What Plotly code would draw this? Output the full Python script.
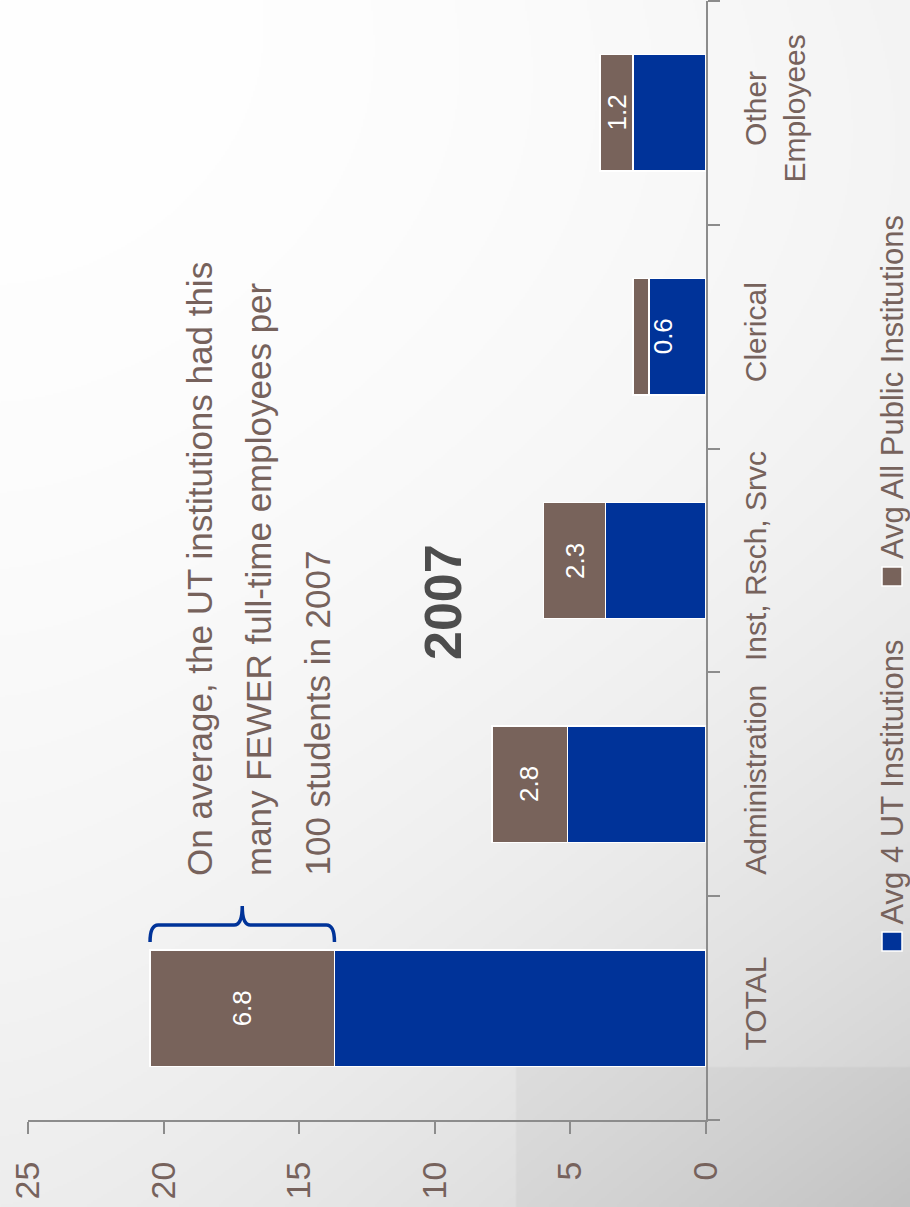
import base64
import struct
import zlib

import numpy as np
import plotly.graph_objects as go

# ---------------- data ----------------
categories = ["TOTAL", "Administration", "Inst, Rsch, Srvc", "Clerical", "Other<br>Employees"]
ut_avg = [13.7, 5.1, 3.7, 2.1, 2.7]            # Avg 4 UT Institutions
gap_to_public = [6.8, 2.8, 2.3, 0.6, 1.2]      # extra for Avg All Public Institutions
value_ticks = [0, 5, 10, 15, 20, 25]
series_names = ["Avg 4 UT Institutions", "Avg All Public Institutions"]
title_text = "2007"
note_lines = [
    "On average, the UT institutions had this",
    "many FEWER full-time employees per",
    "100 students in 2007",
]

# ---------------- style ----------------
W, H = 910, 1207
ML, MR, MT, MB = 28, 204, 1, 87
PW, PH = W - ML - MR, H - MT - MB
BLUE = "#003399"
BROWN = "#78635b"
TXT = "#76625c"
AXC = "#8c8c8c"
FONT = "'Liberation Sans', Arial, sans-serif"


def px(xpix):
    return (xpix - ML) / PW


def py(ypix):
    return (H - MB - ypix) / PH


# ---------------- background gradient (decoration) ----------------
def gradient_png(w, h):
    fx = np.linspace(0, 1, w)[None, :]
    fy = np.linspace(0, 1, h)[:, None]
    g = 255 - 18 * fy ** 2 - 34 * (fx ** 1.5) * fy ** 2 - 12 * fx ** 2 * (1 - fy)
    xs = np.linspace(0, W, w)[None, :]
    ys = np.linspace(0, H, h)[:, None]
    g = g - 8 * ((xs > 517) & (ys > 1067))
    arr = np.clip(g, 0, 255).astype(np.uint8)
    raw = b"".join(b"\x00" + arr[r].tobytes() for r in range(h))

    def chunk(tag, data):
        c = struct.pack(">I", len(data)) + tag + data
        return c + struct.pack(">I", zlib.crc32(tag + data) & 0xFFFFFFFF)

    png = b"\x89PNG\r\n\x1a\n"
    png += chunk(b"IHDR", struct.pack(">IIBBBBB", w, h, 8, 0, 0, 0, 0))
    png += chunk(b"IDAT", zlib.compress(raw, 9))
    png += chunk(b"IEND", b"")
    return "data:image/png;base64," + base64.b64encode(png).decode()


bg = gradient_png(455, 604)

# ---------------- figure ----------------
fig = go.Figure()
fig.add_bar(
    y=categories, x=ut_avg, orientation="h", name=series_names[0],
    marker=dict(color=BLUE, line=dict(color="white", width=1.5)),
    showlegend=False, hoverinfo="skip",
)
fig.add_bar(
    y=categories, x=gap_to_public, orientation="h", name=series_names[1],
    marker=dict(color=BROWN, line=dict(color="white", width=1.5)),
    showlegend=False, hoverinfo="skip",
)

annotations = []
# data labels
for cat, u, g in zip(categories, ut_avg, gap_to_public):
    xpos = u + g / 2 if g >= 1 else u - 0.5
    annotations.append(dict(
        x=xpos, y=cat, xref="x", yref="y", text=f"{g:.1f}", showarrow=False,
        textangle=-90, font=dict(family=FONT, size=26, color="white"),
        xanchor="center", yanchor="middle",
    ))

# note (one annotation per line for the wide line spacing)
for line, xc in zip(note_lines, [199, 258, 317]):
    annotations.append(dict(
        x=px(xc), y=py(878), xref="paper", yref="paper",
        text=line, showarrow=False, textangle=-90,
        font=dict(family=FONT, size=35, color=TXT), xanchor="center", yanchor="bottom",
    ))

# title (partially visible)
annotations.append(dict(
    x=px(443), y=py(602), xref="paper", yref="paper", text=f"<b>{title_text}</b>",
    showarrow=False, textangle=-90, font=dict(family=FONT, size=52, color="#4d4d4d"),
    xanchor="center", yanchor="middle",
))

# legend (rotated)
legend_items = [(series_names[0], BLUE, 951, 932, 927), (series_names[1], BROWN, 586, 567, 561)]
shapes = []
for name, col, yb, yt, ytext in legend_items:
    shapes.append(dict(
        type="rect", xref="paper", yref="paper", x0=px(882), x1=px(902), y0=py(yb), y1=py(yt),
        fillcolor=col, line=dict(color="white", width=1.5),
    ))
    annotations.append(dict(
        x=px(892), y=py(ytext), xref="paper", yref="paper", text=name, showarrow=False,
        textangle=-90, font=dict(family=FONT, size=31, color=TXT),
        xanchor="center", yanchor="bottom",
    ))

# brace spanning the TOTAL gap
a = ut_avg[0] + gap_to_public[0]
b = ut_avg[0]
m = (a + b) / 2
r = 0.3
yb, yl, yt = py(942), py(925), py(906)
brace = (
    f"M {a},{yb} Q {a},{yl} {a - r},{yl} L {m + r},{yl} Q {m},{yl} {m},{yt} "
    f"Q {m},{yl} {m - r},{yl} L {b + r},{yl} Q {b},{yl} {b},{yb}"
)
shapes.append(dict(type="path", xref="x", yref="paper", path=brace,
                   line=dict(color=BLUE, width=3.5)))

fig.update_layout(
    width=W, height=H,
    margin=dict(l=ML, r=MR, t=MT, b=MB, pad=0),
    paper_bgcolor="white", plot_bgcolor="rgba(0,0,0,0)",
    barmode="stack", bargap=0.48,
    font=dict(family=FONT, color=TXT),
    annotations=annotations, shapes=shapes,
    images=[dict(source=bg, xref="paper", yref="paper", x=px(0), y=py(0),
                 sizex=W / PW, sizey=H / PH, sizing="stretch", xanchor="left",
                 yanchor="top", layer="below")],
    xaxis=dict(
        range=[25, 0], tickvals=value_ticks, ticks="outside", ticklen=12, tickwidth=2,
        tickcolor=AXC, showline=True, linecolor=AXC, linewidth=2, showgrid=False,
        zeroline=False, tickangle=-90, tickfont=dict(family=FONT, size=34, color=TXT),
        automargin=False, ticklabelstandoff=14, fixedrange=True,
    ),
    yaxis=dict(
        side="right", range=[-0.5, 4.5], ticks="outside", ticklen=12, tickwidth=2,
        tickcolor=AXC, tickson="boundaries", showline=True, linecolor=AXC, linewidth=2,
        showgrid=False, zeroline=False, tickangle=-90,
        tickfont=dict(family=FONT, size=30, color=TXT), automargin=False,
        ticklabelstandoff=22, fixedrange=True,
    ),
)

fig.write_html(
    "out.html",
    config={"displayModeBar": False},
    post_script="document.body.style.margin='0';document.body.style.overflow='hidden';",
)
